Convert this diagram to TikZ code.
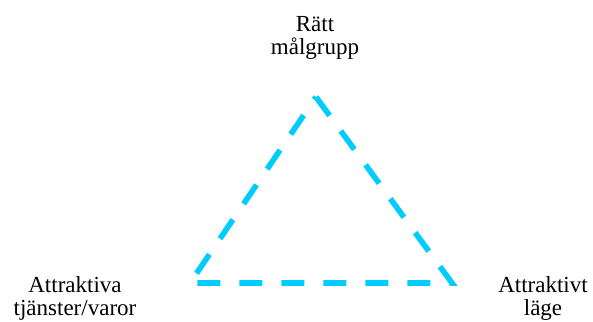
\documentclass[tikz,border=0pt]{standalone}
\usepackage{fontspec}
\setmainfont{Liberation Serif}
\definecolor{ljusbla}{RGB}{0,204,255}

\begin{document}
\begin{tikzpicture}[x=0.5pt,y=-0.5pt,
  etikett/.style={align=center,inner sep=0pt,font=\fontsize{11.5pt}{11.5pt}\selectfont},
  kant/.style={ljusbla,line width=2.8pt,dash pattern=on 11.5pt off 9.5pt}]
  \useasboundingbox (0,0) rectangle (593,321);
  % triangelns hörn
  \coordinate (topp) at (316,97);
  \coordinate (vanster) at (190,283);
  \coordinate (hoger) at (452,283);
  \draw[kant] (topp) -- (hoger) -- (vanster) -- cycle;
  % texter vid hörnen
  \node[etikett] (malgrupp) at (315,38) {Rätt\\målgrupp};
  \node[etikett] (tjanster) at (75,298) {Attraktiva\\tjänster/varor};
  \node[etikett] (lage) at (543,298) {Attraktivt\\läge};
\end{tikzpicture}
\end{document}
